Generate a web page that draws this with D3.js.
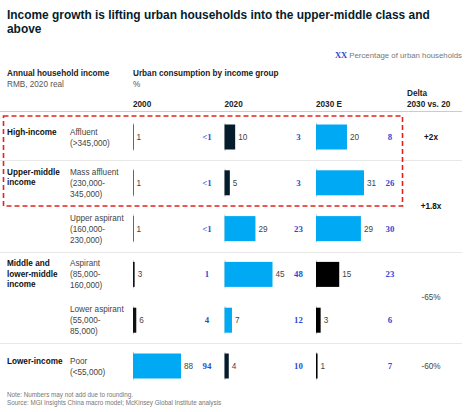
<!DOCTYPE html>
<html><head><meta charset="utf-8">
<script src="https://cdn.jsdelivr.net/npm/d3@7"></script>
<style>
html,body{margin:0;padding:0;background:#fff;}
svg{display:block;font-family:"Liberation Sans",Arial,sans-serif;}
</style></head>
<body>
<svg id="c" width="474" height="412"></svg>
<script>
const years = ["2000", "2020", "2030 E"];
const rowNames = ["Affluent", "Mass affluent", "Upper aspirant", "Aspirant", "Lower aspirant", "Poor"];
const rowRanges = [["(>345,000)"], ["(230,000-", "345,000)"], ["(160,000-", "230,000)"], ["(85,000-", "160,000)"], ["(55,000-", "85,000)"], ["(<55,000)"]];
const groupLabels = [["High-income"], ["Upper-middle", "income"], [], ["Middle and", "lower-middle", "income"], [], ["Lower-income"]];
const cons2000 = [1, 1, 1, 3, 6, 88];
const cons2020 = [10, 5, 29, 45, 7, 4];
const cons2030 = [20, 31, 29, 15, 3, 1];
const share2000 = ["<1", "<1", "<1", "1", "4", "94"];
const share2020 = ["3", "3", "23", "48", "12", "10"];
const share2030 = ["8", "26", "30", "23", "6", "7"];
const growing2000 = [false, false, false, false, false, true];
const growing2020 = [false, false, true, true, true, false];
const growing2030 = [true, true, true, false, false, false];
const deltaLabels = ["+2x", "+1.8x", "-65%", "-60%"];
const deltaFirstRow = [0, 1, 3, 5];
const deltaLastRow = [0, 2, 4, 5];

const cons = [cons2000, cons2020, cons2030];
const shares = [share2000, share2020, share2030];
const growing = [growing2000, growing2020, growing2030];

const BLUE = "#00a9f4", SHARE = "#2a4bd7";
const DARKS = ["#111", "#051c2c", "#000"];
const svg = d3.select("#c");

// title
const title = svg.append("text").attr("x", 7).attr("font-weight", "bold").attr("font-size", 13).attr("fill", "#051c2c");
const t1 = title.append("tspan").attr("x", 7).attr("y", 19).text("Income growth is lifting urban households into the upper-middle class and");
title.append("tspan").attr("x", 7).attr("y", 33).text("above");
const tl = t1.node().getComputedTextLength();
title.attr("font-size", 13 * 423 / tl);

// legend
const lg = svg.append("text").attr("x", 462).attr("y", 58).attr("text-anchor", "end").attr("font-size", 7.8).attr("fill", "#777");
lg.append("tspan").attr("font-family", "'Liberation Serif',serif").attr("font-weight", "bold").attr("fill", SHARE).attr("font-size", 8.5).text("XX ");
lg.append("tspan").text("Percentage of urban households");

// headers
const x = d3.scalePoint().domain(years).range([133, 316]);
const y = d3.scalePoint().domain(rowNames).range([137, 366]);

svg.append("text").attr("x", 7).attr("y", 76).attr("font-size", 8.2).attr("font-weight", "bold").attr("fill", "#222").text("Annual household income");
svg.append("text").attr("x", 7).attr("y", 87).attr("font-size", 8.2).attr("fill", "#555").text("RMB, 2020 real");
svg.append("text").attr("x", 133).attr("y", 76).attr("font-size", 8.2).attr("font-weight", "bold").attr("fill", "#222").text("Urban consumption by income group");
svg.append("text").attr("x", 133).attr("y", 87).attr("font-size", 8.2).attr("fill", "#555").text("%");
svg.append("text").attr("x", 407).attr("y", 96).attr("font-size", 8.2).attr("font-weight", "bold").attr("fill", "#222").text("Delta");
svg.append("text").attr("x", 407).attr("y", 107).attr("font-size", 8.2).attr("font-weight", "bold").attr("fill", "#222").text("2030 vs. 20");
years.forEach(yr => {
  svg.append("text").attr("x", x(yr)).attr("y", 107).attr("font-size", 8.2).attr("font-weight", "bold").attr("fill", "#222").text(yr);
});

// separators
svg.append("line").attr("x1", 0).attr("x2", 462).attr("y1", 111.5).attr("y2", 111.5).attr("stroke", "#ccc").attr("stroke-width", 1);
const step = y.step();
[0, 2, 4].forEach(i => {
  const yy = Math.round(y(rowNames[i]) + step / 2) + 0.5;
  svg.append("line").attr("x1", 0).attr("x2", 462).attr("y1", yy).attr("y2", yy).attr("stroke", "#e8e8e8").attr("stroke-width", 1);
});

// row labels
rowNames.forEach((name, i) => {
  const cy = y(name);
  const lines = [name].concat(rowRanges[i]);
  const top = cy - (lines.length - 1) * 11 / 2 + 3;
  lines.forEach((l, j) => {
    svg.append("text").attr("x", 70).attr("y", top + j * 11).attr("font-size", 8.2).attr("fill", "#444").text(l);
  });
  groupLabels[i].forEach((l, j) => {
    svg.append("text").attr("x", 7).attr("y", top + j * 10.5).attr("font-size", 8.2).attr("font-weight", "bold").attr("fill", "#111").text(l);
  });
});

// bars
const BH = 25;
years.forEach((yr, k) => {
  const w = d3.scaleLinear().domain([0, d3.max(cons[k])]).range([0, 48]);
  const x0 = x(yr);
  rowNames.forEach((name, i) => {
    const cy = y(name);
    svg.append("line").attr("x1", x0 + 0.5).attr("x2", x0 + 0.5).attr("y1", cy - 14).attr("y2", cy + 14).attr("stroke", "#ccc").attr("stroke-width", 1);
    const bw = w(cons[k][i]);
    svg.append("rect").attr("x", x0).attr("y", cy - BH / 2).attr("width", bw).attr("height", BH)
      .attr("fill", growing[k][i] ? BLUE : DARKS[k]);
    svg.append("text").attr("x", x0 + Math.max(bw, 0.5) + 3).attr("y", cy + 3).attr("font-size", 8.2).attr("fill", "#444").text(cons[k][i]);
    svg.append("text").attr("x", x0 + 74).attr("y", cy + 3).attr("text-anchor", "middle").attr("font-size", 8.8)
      .attr("font-family", "'Liberation Serif',serif").attr("font-weight", "bold").attr("fill", SHARE).text(shares[k][i]);
  });
});

// delta
deltaLabels.forEach((d, j) => {
  const cy = (y(rowNames[deltaFirstRow[j]]) + y(rowNames[deltaLastRow[j]])) / 2;
  svg.append("text").attr("x", 431).attr("y", cy + 3).attr("text-anchor", "middle").attr("font-size", 8.2)
    .attr("font-weight", d.startsWith("+") ? "bold" : "normal").attr("fill", d.startsWith("+") ? "#111" : "#444").text(d);
});

// red dashed highlight box
svg.append("rect").attr("x", 3.5).attr("y", 116).attr("width", 399).attr("height", 90)
  .attr("fill", "none").attr("stroke", "#e5231f").attr("stroke-width", 1.6).attr("stroke-dasharray", "5,3");

// footer
svg.append("text").attr("x", 7).attr("y", 397).attr("font-size", 6.3).attr("fill", "#777").text("Note: Numbers may not add due to rounding.");
svg.append("text").attr("x", 7).attr("y", 405).attr("font-size", 6.3).attr("fill", "#777").text("Source: MGI Insights China macro model; McKinsey Global Institute analysis");
</script>
</body></html>
